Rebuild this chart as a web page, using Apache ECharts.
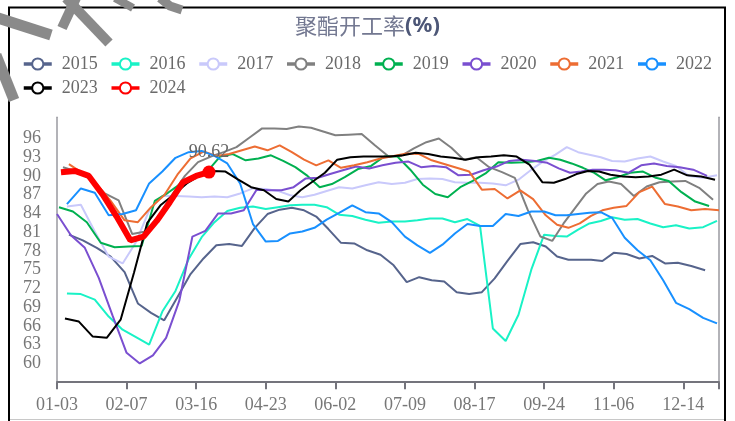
<!DOCTYPE html>
<html><head><meta charset="utf-8">
<script src="https://cdn.jsdelivr.net/npm/echarts@6/dist/echarts.min.js"></script>
<style>html,body{margin:0;padding:0;background:#fff}#c{width:735px;height:421px}</style>
</head><body><div id="c"></div>
<script>
// ---- tick labels (MM-DD) and the day-of-year of each ----
const tickLabels = ['01-03','02-07','03-16','04-23','06-02','07-09','08-17','09-24','11-06','12-14'];
const tickDays   = [3, 38, 75, 113, 153, 190, 229, 267, 310, 348];
const axisEndDay = 366;
const axisEndPos = 9.513;

// ---- series: years, colours, first reporting day-of-year, weekly values ----
const years  = ['2015','2016','2017','2018','2019','2020','2021','2022','2023','2024'];
const colors = ['#56648c','#19f2c6','#c9c9fb','#808080','#00b050','#7a4fd0','#ed6d33','#1890ff','#000000','#ff0000'];
const startDays = [9, 8, 8, 6, 4, 3, 9, 8, 7, 5];

const v2015 = [80.6,79.7,78.5,77.1,74.6,69.6,68.1,66.9,70.6,74.3,76.8,78.9,79.1,78.8,81.7,83.9,84.6,84.9,84.5,83.5,81.5,79.3,79.2,78.1,77.4,75.7,73.0,73.8,73.3,73.1,71.4,71.1,71.4,73.6,76.4,79.1,79.4,78.7,77.1,76.6,76.6,76.6,76.4,77.7,77.5,76.8,77.2,76.0,76.1,75.6,74.9];
const v2016 = [71.2,71.1,70.2,67.5,65.4,64.2,63.0,68.3,71.6,76.7,80.2,82.6,84.4,84.9,85.1,84.7,85.0,85.3,85.4,85.4,85.0,83.8,83.6,83.0,82.5,82.7,82.7,82.9,83.2,83.2,82.6,83.1,82.0,65.6,63.6,67.8,75.0,80.6,80.4,80.3,81.4,82.4,82.8,83.4,83.0,83.1,82.4,81.8,82.1,81.6,81.8,82.8];
const v2017 = [85.1,85.4,81.1,77.1,76.0,79.4,84.5,86.8,86.8,86.7,86.6,86.7,86.6,87.2,88.0,87.9,87.6,86.9,86.6,87.0,87.6,88.2,88.0,88.5,89.0,88.7,88.9,89.5,89.6,89.5,89.0,88.9,88.9,88.8,88.5,89.4,91.0,92.4,93.4,94.6,93.8,93.4,93.0,92.4,92.3,92.8,93.1,92.3,91.6,90.0,89.7,90.1];
const v2018 = [91.4,90.7,89.5,87.2,86.1,80.7,81.1,83.5,86.9,90.0,92.2,93.1,93.8,94.6,96.1,97.6,97.6,97.5,97.9,97.7,97.1,96.5,96.6,96.7,94.9,93.2,93.2,94.4,95.4,96.0,94.5,92.6,93.0,91.4,90.6,89.7,84.6,80.3,79.6,82.4,84.8,87.2,88.7,89.1,88.7,86.8,88.3,89.0,89.1,89.2,88.1,86.2];
const v2019 = [85.0,84.3,82.6,79.3,78.6,78.7,78.8,86.0,87.3,88.8,90.1,90.7,93.1,93.5,92.5,92.8,93.3,92.4,91.4,90.0,88.2,88.7,89.8,91.1,91.6,93.1,93.1,91.0,88.6,87.1,86.6,88.2,89.2,90.4,92.2,92.1,92.2,92.4,92.9,92.6,92.0,91.3,90.5,89.3,89.8,90.5,90.7,89.7,89.2,87.4,85.9,85.2];
const v2020 = [83.9,80.5,78.5,73.7,67.6,61.7,60.0,61.3,64.1,70.0,80.3,81.2,84.0,84.0,84.5,87.8,87.7,87.7,88.2,89.6,89.7,90.3,90.9,91.5,91.2,91.7,92.1,92.3,91.4,91.6,91.4,90.1,90.2,90.9,91.5,92.4,92.6,92.4,92.1,91.2,90.5,90.7,91.0,91.0,90.9,90.5,91.7,92.0,91.6,91.4,91.0,90.0];
const v2021 = [91.9,90.4,88.7,86.0,82.9,82.6,85.0,86.9,90.2,92.8,93.9,93.2,93.5,94.1,94.7,94.1,94.9,93.8,92.6,91.7,92.5,91.3,91.7,92.2,92.8,93.2,93.6,93.5,92.5,91.9,91.3,90.7,87.8,87.9,86.4,87.7,86.3,83.7,82.2,81.7,82.4,83.6,84.5,84.9,85.2,87.4,88.3,85.5,85.1,84.5,84.7,84.5];
const v2022 = [85.5,88.0,87.3,83.7,83.9,84.5,88.8,90.7,92.9,93.8,94.0,93.2,92.0,88.8,82.3,79.5,79.6,80.8,81.1,81.7,83.0,84.1,85.3,84.2,84.0,82.6,80.3,78.9,77.7,79.0,80.8,82.3,82.0,82.0,83.9,83.6,84.3,84.3,83.7,83.7,83.9,84.1,84.2,83.3,80.1,78.1,76.5,73.3,69.7,68.7,67.3,66.4];
const v2023 = [67.2,66.7,64.3,64.1,67.0,74.6,82.5,85.3,87.0,88.8,90.1,90.8,90.7,89.4,88.2,87.7,86.3,85.9,87.7,89.1,90.5,92.6,93.0,93.1,93.1,93.1,93.3,93.7,93.5,93.1,92.9,92.6,93.0,93.1,93.3,93.1,91.8,89.0,88.9,89.5,90.3,90.8,90.7,90.2,89.9,89.8,89.9,90.2,91.0,90.1,89.9,89.4];
const v2024 = [90.6,90.8,90.0,87.0,83.5,79.7,80.3,82.8,85.8,89.0,90.0,90.62];
const seriesValues = [v2015,v2016,v2017,v2018,v2019,v2020,v2021,v2022,v2023,v2024];

// y axis range and the tick labels shown
const yMin = 57, yMax = 99.38, yStep = 3, yLabelLow = 60, yLabelHigh = 96;

function dayToPos(d) {
  for (let i = 0; i < tickDays.length - 1; i++) {
    if (d < tickDays[i + 1]) return i + (d - tickDays[i]) / (tickDays[i + 1] - tickDays[i]);
  }
  const last = tickDays.length - 1;
  return last + (d - tickDays[last]) / (axisEndDay - tickDays[last]) * (axisEndPos - last);
}

const serif = 'Liberation Serif';
const series = years.map((y, i) => {
  const vals = seriesValues[i];
  const isLast = (y === '2024');
  const data = vals.map((v, k) => {
    const item = { value: [dayToPos(startDays[i] + 7 * k), v] };
    if (isLast && k === vals.length - 1) {
      item.symbol = 'circle';
      item.symbolSize = 13;
      item.label = { show: true, position: 'top', distance: 4, formatter: p => p.value[1].toFixed(2),
        fontFamily: serif, fontSize: 18, color: '#666' };
    }
    return item;
  });
  return {
    name: y, type: 'line', data,
    symbol: 'emptyCircle',
    showSymbol: isLast,
    symbolSize: isLast ? 0 : 4,
    itemStyle: { color: colors[i] },
    lineStyle: { color: colors[i], width: isLast ? 6 : 2 },
    emphasis: { disabled: true },
    silent: true, z: 2 + i
  };
});

const legendCommon = {
  left: 22, padding: 0, itemWidth: 28, itemHeight: 14, itemGap: 12,
  lineStyle: { width: 3.5 },
  textStyle: { fontFamily: serif, fontSize: 18, color: '#6a6a6a', padding: [0, 0, 0, 5], lineHeight: 18 },
  selectedMode: false
};

const wm = '#8a8a8a';
const chart = echarts.init(document.getElementById('c'), null, { renderer: 'canvas' });
chart.setOption({
  animation: false,
  backgroundColor: '#fff',
  title: {
    text: '{a|聚酯开工率}{b|(%)}', left: 'center', top: 13, padding: 0,
    textStyle: { fontWeight: 'normal', rich: {
      a: { fontFamily: 'Noto Sans CJK SC', fontWeight: 'normal', fontSize: 22, color: '#737891', lineHeight: 26 },
      b: { fontFamily: 'Noto Sans', fontWeight: 'bold', fontSize: 22, color: '#4d5777', lineHeight: 26 }
    } }
  },
  legend: [
    Object.assign({}, legendCommon, { top: 55, data: years.slice(0, 8) }),
    Object.assign({}, legendCommon, { top: 79, data: years.slice(8) })
  ],
  grid: { left: 57, right: 16, top: 117.3, bottom: 38.8, containLabel: false, outerBoundsMode: 'none' },
  xAxis: {
    type: 'value', min: 0, max: axisEndPos, interval: 1,
    axisLine: { show: true, lineStyle: { color: '#74747c', width: 2 } },
    axisTick: { show: true, length: 7, lineStyle: { color: '#74747c', width: 2 } },
    splitLine: { show: false },
    axisLabel: {
      margin: 14, fontFamily: serif, fontSize: 18, color: '#777',
      showMinLabel: true, showMaxLabel: true,
      formatter: v => (Math.abs(v - Math.round(v)) < 1e-6 && tickLabels[Math.round(v)]) ? tickLabels[Math.round(v)] : ''
    }
  },
  yAxis: [{
    type: 'value', min: yMin, max: yMax, interval: yStep,
    axisLine: { show: true, lineStyle: { color: '#9a9aa0', width: 1.5 } },
    axisTick: { show: false }, splitLine: { show: false },
    axisLabel: {
      margin: 16, fontFamily: serif, fontSize: 18, color: '#777',
      formatter: v => (v >= yLabelLow && v <= yLabelHigh) ? String(Math.round(v)) : ''
    }
  }, {
    type: 'value', position: 'right', min: yMin, max: yMax, interval: yStep,
    axisLine: { show: true, lineStyle: { color: '#9a9aa0', width: 1.5 } },
    axisTick: { show: false }, splitLine: { show: false }, axisLabel: { show: false }
  }],
  series,
  graphic: { elements: [
    { type: 'rect', shape: { x: 9, y: 7.5, width: 716, height: 430 }, style: { fill: 'none', stroke: '#000', lineWidth: 2 }, z: 100, silent: true },
    { type: 'line', shape: { x1: 9, y1: 419.5, x2: 725, y2: 419.5 }, style: { stroke: '#c8c8c8', lineWidth: 1 }, z: 99, silent: true },
    { type: 'line', shape: { x1: -2, y1: 18, x2: 51, y2: 35 }, style: { stroke: wm, lineWidth: 11 }, z: 101, silent: true },
    { type: 'line', shape: { x1: 66, y1: -2, x2: 109, y2: 43 }, style: { stroke: wm, lineWidth: 10 }, z: 101, silent: true },
    { type: 'line', shape: { x1: 76, y1: -2, x2: 62, y2: 28 }, style: { stroke: wm, lineWidth: 10 }, z: 101, silent: true },
    { type: 'line', shape: { x1: -4, y1: 55, x2: 14, y2: 100 }, style: { stroke: wm, lineWidth: 11 }, z: 101, silent: true },
    { type: 'line', shape: { x1: 115, y1: -2, x2: 133, y2: 8 }, style: { stroke: wm, lineWidth: 8 }, z: 101, silent: true },
    { type: 'polyline', shape: { points: [[160, -2], [170, 6], [182, 10]] }, style: { stroke: wm, lineWidth: 9, fill: 'none' }, z: 101, silent: true }
  ] }
});
</script>
</body></html>
